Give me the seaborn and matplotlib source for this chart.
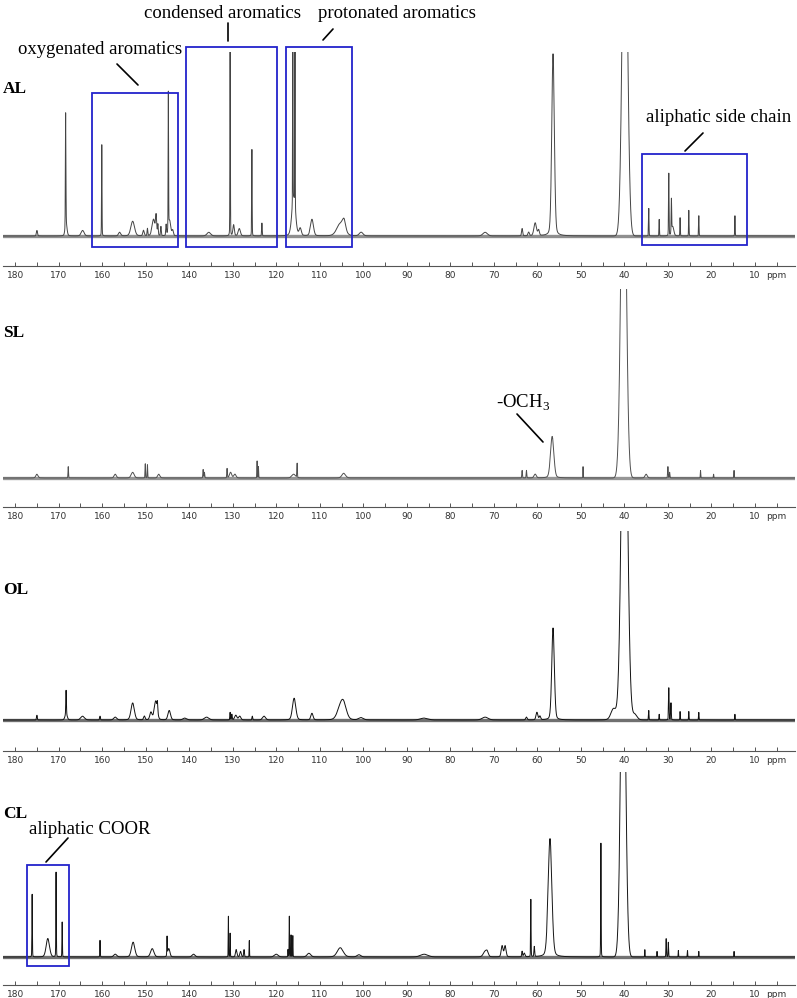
import numpy as np
import pandas as pd
import matplotlib
matplotlib.use("Agg")
import matplotlib.pyplot as plt
import seaborn as sns
from matplotlib.patches import Rectangle

sns.set_theme(style="white")
plt.rcParams["font.family"] = ["DejaVu Sans"]
plt.rcParams["mathtext.fontset"] = "custom"
plt.rcParams["mathtext.rm"] = "Liberation Serif"

W, H = 797, 998

# --- tablas de picos: ppm, altura (100 = borde superior del panel), semiancho ---
al_ppm = [175.0, 168.4, 168.3, 164.5, 160.1, 156.0, 153.0, 150.5, 149.6, 148.2, 147.6, 147.2, 146.5,
          145.3, 144.8, 144.5, 143.8, 135.5, 130.6, 129.8, 128.5, 125.6, 123.3, 116.2, 115.7, 116.0,
          114.5, 111.8, 105.2, 104.4, 100.5, 72.0, 63.5, 62.0, 60.5, 59.7, 56.4,
          34.4, 32.0, 29.8, 29.2, 28.9, 27.2, 25.2, 22.9, 14.6]
al_h = [3, 62, 6, 3, 50, 2, 8, 3, 4, 9, 10, 6, 5,
        6, 75, 8, 3, 2, 101, 6, 4, 47, 7, 101, 86, 20,
        4, 9, 7, 5, 2, 2, 4, 2, 7, 3, 99,
        15, 9, 34, 18, 5, 10, 14, 11, 11]
al_w = [0.15, 0.07, 0.25, 0.4, 0.06, 0.3, 0.5, 0.2, 0.1, 0.4, 0.15, 0.1, 0.1,
        0.1, 0.06, 0.3, 0.2, 0.5, 0.06, 0.2, 0.3, 0.06, 0.08, 0.05, 0.05, 0.5,
        0.3, 0.4, 1.0, 0.4, 0.5, 0.6, 0.15, 0.2, 0.35, 0.2, 0.35,
        0.06, 0.06, 0.07, 0.07, 0.3, 0.06, 0.06, 0.06, 0.06]

sl_ppm = [175.0, 167.8, 157.0, 153.0, 150.1, 149.6, 147.0, 136.8, 136.5, 131.3, 130.5, 129.5,
          124.4, 124.1, 116.0, 115.2, 104.5, 63.5, 62.5, 60.5, 56.6, 49.5,
          35.0, 30.0, 29.6, 22.5, 19.5, 14.8]
sl_h = [2, 6, 2, 3, 7.5, 7, 2, 4.5, 3, 5, 3, 2,
        9, 6, 2, 7.5, 2.5, 4, 4, 2, 22, 6,
        2, 6, 3, 4, 2, 4]
sl_w = [0.3, 0.07, 0.3, 0.4, 0.06, 0.06, 0.3, 0.08, 0.08, 0.08, 0.3, 0.3,
        0.06, 0.06, 0.5, 0.06, 0.5, 0.08, 0.08, 0.3, 0.45, 0.05,
        0.3, 0.08, 0.08, 0.06, 0.06, 0.06]

ol_ppm = [175.0, 168.3, 168.3, 164.5, 160.5, 157.0, 153.0, 150.3, 148.8, 147.7, 147.3, 144.6,
          141.0, 136.0, 130.6, 130.2, 129.3, 128.4, 125.5, 122.8, 115.9, 111.8, 104.6, 105.5,
          100.5, 86.0, 72.0, 62.5, 60.1, 59.4, 56.4, 42.5, 37.6,
          34.4, 32.0, 29.8, 29.3, 27.2, 25.2, 22.9, 14.6]
ol_h = [2.5, 12.7, 3, 2, 2, 1.5, 9, 2, 4, 10, 5, 5,
        1, 1.5, 4, 3, 2.5, 2, 2, 2, 11.5, 3.5, 9, 4,
        1.2, 1, 1.5, 1.5, 4, 2, 48.7, 6, 3,
        5, 3, 17, 9, 4.5, 4.5, 4, 3]
ol_w = [0.1, 0.08, 0.3, 0.5, 0.1, 0.4, 0.45, 0.2, 0.3, 0.4, 0.1, 0.35,
        0.5, 0.6, 0.08, 0.1, 0.3, 0.3, 0.1, 0.4, 0.45, 0.3, 0.8, 0.8,
        0.6, 1.0, 0.8, 0.2, 0.25, 0.2, 0.35, 0.7, 0.6,
        0.06, 0.06, 0.08, 0.08, 0.06, 0.06, 0.06, 0.06]

cl_ppm = [176.1, 172.5, 170.6, 169.2, 160.5, 157.0, 152.9, 148.5, 145.1, 144.7, 139.0,
          131.0, 130.6, 129.2, 128.2, 127.4, 126.2, 120.0, 117.3, 117.0, 116.6, 116.2,
          112.5, 105.3, 101.0, 86.0, 72.0, 71.5, 68.1, 67.4, 63.5, 63.0, 61.5, 60.7, 57.1, 45.4,
          35.3, 32.5, 30.4, 29.9, 27.6, 25.5, 22.9, 14.8]
cl_h = [34, 10, 46, 19, 9, 1.5, 8, 4.5, 10, 4.5, 1.5,
        22, 13, 4, 3, 4, 9, 1.5, 4, 22, 12, 11.5,
        2, 5, 1.2, 1.5, 3, 2, 6, 6, 3, 2, 31, 5.5, 64, 62,
        4, 3, 10, 8, 3.5, 3.5, 3, 3]
cl_w = [0.06, 0.45, 0.06, 0.06, 0.06, 0.4, 0.45, 0.45, 0.06, 0.3, 0.4,
        0.05, 0.05, 0.2, 0.2, 0.1, 0.05, 0.5, 0.06, 0.05, 0.05, 0.05,
        0.5, 0.8, 0.5, 1.0, 0.5, 0.3, 0.25, 0.25, 0.1, 0.2, 0.06, 0.1, 0.5, 0.06,
        0.05, 0.05, 0.07, 0.07, 0.05, 0.05, 0.05, 0.05]

# señal del disolvente (DMSO), recortada arriba: centro, altura, semiancho
dmso_ppm = [39.9, 40.2, 40.0, 40.3]
dmso_h = [204, 204, 215, 195]
dmso_w = [0.69, 0.69, 0.78, 0.64]

muestras = ["AL", "SL", "OL", "CL"]
colores = ["#444444", "#505050", "#111111", "#151515"]

# --- posición de cada panel en píxeles: borde superior, línea base, eje ---
panel_px = [(52, 236, 266), (289, 478, 507), (531, 720, 751), (772, 957, 985)]


def espectro(x, ppm, h, w, eta=0.2):
    y = np.zeros_like(x)
    for p, a, g in zip(ppm, h, w):
        d = (x - p) / g
        y += a * ((1 - eta) * np.exp(-np.log(2) * d ** 2) + eta / (1 + d ** 2))
    return y


x = np.linspace(182.8, 0.8, 12000)
tablas = [(al_ppm, al_h, al_w), (sl_ppm, sl_h, sl_w), (ol_ppm, ol_h, ol_w), (cl_ppm, cl_h, cl_w)]

df = pd.DataFrame({"ppm": x})
for i, (nombre, (p, h, w)) in enumerate(zip(muestras, tablas)):
    df[nombre] = espectro(x, p, h, w) + espectro(x, [dmso_ppm[i]], [dmso_h[i]], [dmso_w[i]], eta=0)

fig = plt.figure(figsize=(W / 100, H / 100), dpi=100)


def fx(px):
    return px / W


def fy(py):
    return 1 - py / H


ejes = []
for i, nombre in enumerate(muestras):
    top, base, axis = panel_px[i]
    esc = (base - top) / 100
    ax = fig.add_axes([fx(3), fy(axis), 792 / W, (axis - top) / H])
    ax.axhline(0, color=colores[i], lw=2.4, alpha=0.6, zorder=1)
    sns.lineplot(data=df, x="ppm", y=nombre, ax=ax, color=colores[i], lw=0.7, zorder=2)
    ax.set_xlim(182.8, 0.8)
    ax.set_ylim(-(axis - base) / esc, 100)
    ax.set_xlabel("")
    ax.set_ylabel("")
    ax.set_yticks([])
    for s in ["top", "left", "right"]:
        ax.spines[s].set_visible(False)
    ax.spines["bottom"].set_color("#555555")
    ax.spines["bottom"].set_linewidth(0.8)
    ax.set_xticks(list(range(180, 9, -10)) + [5])
    ax.set_xticklabels([str(v) for v in range(180, 9, -10)] + ["ppm"])
    ax.set_xticks(list(range(175, 14, -10)), minor=True)
    ax.tick_params(axis="x", which="both", direction="in", length=3, width=0.7,
                   color="#555555", labelsize=6.5, labelcolor="#333333", pad=3.5, bottom=True)
    ax.set_facecolor("none")
    ax.patch.set_alpha(0)
    ejes.append(ax)

# --- recuadros de las regiones ---
azul = "#2323cc"
cajas = [
    (0, 162.3, 142.6, -6, 77.7),
    (0, 140.7, 119.8, -6, 102.7),
    (0, 117.7, 102.6, -6, 102.7),
    (0, 36.0, 11.8, -4.9, 44.6),
    (3, 177.2, 167.6, -4.8, 49.5),
]
for k, x0, x1, y0, y1 in cajas:
    ejes[k].add_patch(Rectangle((x1, y0), x0 - x1, y1 - y0, fill=False, ec=azul, lw=1.3,
                                clip_on=False, zorder=5))

# --- textos y líneas guía ---
serif = "Liberation Serif"
textos = [
    ("condensed aromatics", 222, 13),
    ("protonated aromatics", 397, 14),
    ("oxygenated aromatics", 100, 50),
    ("aliphatic side chain", 719, 117),
    ("aliphatic COOR", 90, 829),
    ("-OCH$_\\mathregular{3}$", 523, 403),
]
for t, px, py in textos:
    fig.text(fx(px), fy(py), t, family=serif, fontsize=13.5, ha="center", va="center", color="black")

guias = [
    ((117, 64), (138, 85)),
    ((228, 23), (228, 41)),
    ((333, 29), (323, 40)),
    ((703, 133), (685, 151)),
    ((68, 838), (46, 862)),
    ((517, 414), (543, 442)),
]
for (x0, y0), (x1, y1) in guias:
    fig.add_artist(plt.Line2D([fx(x0), fx(x1)], [fy(y0), fy(y1)], color="black", lw=1.2))

etiquetas_y = [89, 333, 590, 814]
for nombre, py in zip(muestras, etiquetas_y):
    fig.text(fx(3), fy(py), nombre, family=serif, fontweight="bold", fontsize=12.5,
             ha="left", va="center", color="black")

fig.savefig("out.png", dpi=100, facecolor="white")
